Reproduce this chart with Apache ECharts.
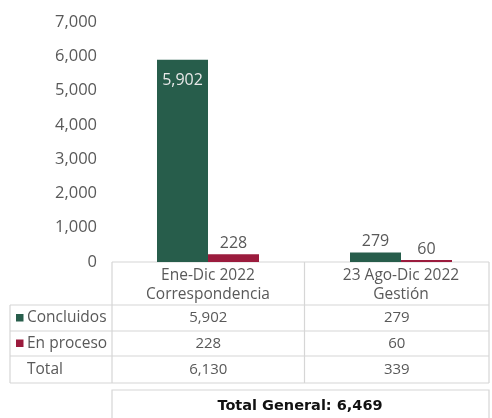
<!DOCTYPE html>
<html><head><meta charset="utf-8">
<script src="https://cdn.jsdelivr.net/npm/echarts@6/dist/echarts.min.js"></script>
<style>html,body{margin:0;padding:0;background:#fff}#c{width:492px;height:418px}</style>
</head><body><div id="c"></div>
<script>
const categories = ['Ene-Dic 2022\nCorrespondencia', '23 Ago-Dic 2022\nGestión'];
const concluidos = [5902, 279];
const enProceso = [228, 60];
const seriesNames = ['Concluidos', 'En proceso'];
const yTicks = [0, 1000, 2000, 3000, 4000, 5000, 6000, 7000];

const GREEN = '#275d4b', RED = '#9b1b3d', TXT = '#595959', BORDER = '#d6d6d6';
const FONT = 'Open Sans';
const fmt = v => v.toLocaleString('en-US');
const totals = concluidos.map((v, i) => v + enProceso[i]);
const grand = totals.reduce((a, b) => a + b, 0);

const chart = echarts.init(document.getElementById('c'));
chart.setOption({
  animation: false,
  textStyle: { fontFamily: FONT },
  grid: { left: 111.5, width: 386, top: 22, bottom: 156, containLabel: false, outerBoundsMode: 'none' },
  xAxis: {
    type: 'category', data: categories,
    axisLine: { show: false }, axisTick: { show: false },
    axisLabel: { color: TXT, fontSize: 15.5, lineHeight: 19, margin: 4, fontFamily: FONT, hideOverlap: false }
  },
  yAxis: {
    type: 'value', min: yTicks[0], max: yTicks[yTicks.length - 1], interval: 1000,
    splitLine: { show: false }, axisLine: { show: false }, axisTick: { show: false },
    axisLabel: { color: TXT, fontSize: 16.5, margin: 14.5, formatter: v => fmt(v), fontFamily: FONT }
  },
  series: [
    { name: seriesNames[0], type: 'bar', barWidth: 51, barGap: '0%',
      data: concluidos.map((v, i) => i === 0 ? { value: v, label: { position: 'insideTop', color: '#e8e8e8', distance: 13 } } : v),
      itemStyle: { color: GREEN },
      label: { show: true, position: 'top', color: TXT, fontSize: 16, distance: 3, formatter: p => fmt(p.value), fontFamily: FONT } },
    { name: seriesNames[1], type: 'bar', data: enProceso, barWidth: 51, barGap: '0%',
      itemStyle: { color: RED },
      label: { show: true, position: 'top', color: TXT, fontSize: 16, distance: 3, formatter: p => fmt(p.value), fontFamily: FONT } }
  ]
});

const cx = categories.map((c, i) => chart.convertToPixel({ xAxisIndex: 0 }, i));
const colL = 112, colM = (cx[0] + cx[1]) / 2, colR = 489, leftX = 10;
const rows = [305, 331, 356, 383];
const g = [];
const line = (x1, y1, x2, y2) => g.push({ type: 'line', shape: { x1, y1, x2, y2 }, style: { stroke: BORDER, lineWidth: 1.2 }, silent: true });
line(colL, 262, colR, 262);
rows.forEach(y => line(leftX, y, colR, y));
line(leftX, rows[0], leftX, rows[3]);
[colL, colM, colR].forEach(x => line(x, 262, x, rows[3]));
const rowLabels = [seriesNames[0], seriesNames[1], 'Total'];
const rowData = [concluidos, enProceso, totals];
const swatch = [GREEN, RED, null];
rowLabels.forEach((lab, r) => {
  const yc = (rows[r] + rows[r + 1]) / 2;
  if (swatch[r]) g.push({ type: 'rect', shape: { x: 16, y: yc - 4, width: 7.5, height: 7.5 }, style: { fill: swatch[r] } });
  g.push({ type: 'text', x: 27, y: yc, style: { text: lab, fill: TXT, font: '15.5px "' + FONT + '"', align: 'left', verticalAlign: 'middle' } });
  rowData[r].forEach((v, i) => {
    g.push({ type: 'text', x: (i === 0 ? (colL + colM) / 2 : (colM + colR) / 2), y: yc, style: { text: fmt(v), fill: TXT, font: '15px "' + FONT + '"', align: 'center', verticalAlign: 'middle' } });
  });
});
g.push({ type: 'rect', shape: { x: colL, y: 390, width: colR - colL, height: 40 }, style: { fill: 'none', stroke: BORDER, lineWidth: 1.2 } });
g.push({ type: 'text', x: 300, y: 406, style: { text: 'Total General: ' + fmt(grand), fill: '#111', font: 'bold 14.5px "DejaVu Sans"', align: 'center', verticalAlign: 'middle' } });
chart.setOption({ graphic: g });
</script></body></html>
